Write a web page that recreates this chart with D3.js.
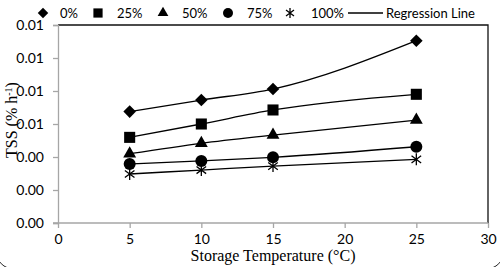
<!DOCTYPE html>
<html>
<head>
<meta charset="utf-8">
<script src="https://cdn.jsdelivr.net/npm/d3@7"></script>
<style>
  body { margin: 0; background: #fff; }
  svg { display: block; }
</style>
</head>
<body>
<div id="chart"></div>
<script>
let width = 500;
let height = 267;

// data
let temps = [5, 10, 15, 25];
let rate0 = [0.00675, 0.00745, 0.00812, 0.01105];
let rate25 = [0.00519, 0.00600, 0.00685, 0.00780];
let rate50 = [0.00420, 0.00483, 0.00533, 0.00624];
let rate75 = [0.00358, 0.00376, 0.00398, 0.00462];
let rate100 = [0.00297, 0.00321, 0.00345, 0.00386];
let seriesNames = ["0%", "25%", "50%", "75%", "100%"];
let xTicks = [0, 5, 10, 15, 20, 25, 30];
let yTicks = [0, 0.002, 0.004, 0.006, 0.008, 0.010, 0.012];

let allSeries = [rate0, rate25, rate50, rate75, rate100];
let shapes = ["diamond", "square", "triangle", "circle", "star"];

let svg = d3.select("#chart")
  .append("svg")
    .attr("width", width)
    .attr("height", height);

let xScale = d3.scaleLinear().domain([0, 30]).range([58, 488]);
let yScale = d3.scaleLinear().domain([0, 0.012]).range([223, 25]);

// outer rounded border (only the bottom corners are inside the picture)
svg.append("rect")
  .attr("x", -4).attr("y", -30)
  .attr("width", 508).attr("height", 299)
  .attr("rx", 18)
  .attr("fill", "none")
  .attr("stroke", "#222")
  .attr("stroke-width", 1);

// plot frame: top and right dark
svg.append("path")
  .attr("d", "M" + xScale(0) + "," + yScale(0.012) + "H" + xScale(30) + "V" + yScale(0))
  .attr("fill", "none")
  .attr("stroke", "#111")
  .attr("stroke-width", 1.3);

let xAxis = d3.axisBottom(xScale).tickValues(xTicks).tickSize(5).tickPadding(6);
let yAxis = d3.axisLeft(yScale).tickValues(yTicks).tickSize(5).tickPadding(9)
  .tickFormat(d3.format(".2f"));

let xAxisGroup = svg.append("g")
  .attr("transform", "translate(0," + yScale(0) + ")")
  .call(xAxis);
let yAxisGroup = svg.append("g")
  .attr("transform", "translate(" + xScale(0) + ",0)")
  .call(yAxis);

[xAxisGroup, yAxisGroup].forEach(function(g){
  g.select(".domain").attr("stroke", "#a6a6a6").attr("stroke-width", 1.3);
  g.selectAll(".tick line").attr("stroke", "#a6a6a6").attr("stroke-width", 1.3);
  g.selectAll(".tick text")
    .style("font-family", "Lato")
    .style("font-size", "14px")
    .attr("fill", "#000");
});
xAxisGroup.select(".domain").attr("d", "M" + (xScale(0) - 5) + ",0H" + xScale(30));

function drawMarker(g, shape, s) {
  if (shape == "diamond") {
    g.append("path").attr("d", d3.symbol(d3.symbolSquare, s * s * 0.55)()).attr("transform", "rotate(45)").attr("fill", "#000");
  } else if (shape == "square") {
    g.append("path").attr("d", d3.symbol(d3.symbolSquare, s * s * 0.85)()).attr("fill", "#000");
  } else if (shape == "triangle") {
    g.append("path").attr("d", d3.symbol(d3.symbolTriangle, s * s * 0.5)()).attr("fill", "#000");
  } else if (shape == "circle") {
    g.append("circle").attr("r", s * 0.5).attr("fill", "#000");
  } else {
    let r = s * 0.5;
    let a = r * 0.8;
    g.append("path")
      .attr("d", "M0," + (-r) + "V" + r + "M" + (-a) + "," + (-r * 0.6) + "L" + a + "," + (r * 0.6) + "M" + (-a) + "," + (r * 0.6) + "L" + a + "," + (-r * 0.6))
      .attr("stroke", "#000").attr("stroke-width", 1.3).attr("fill", "none");
  }
}

let line = d3.line()
  .x(function(d, i){ return xScale(temps[i]); })
  .y(function(d){ return yScale(d); })
  .curve(d3.curveMonotoneX);

allSeries.forEach(function(values, k){
  svg.append("path")
    .attr("d", line(values))
    .attr("fill", "none")
    .attr("stroke", "#000")
    .attr("stroke-width", 1.3);
});

allSeries.forEach(function(values, k){
  values.forEach(function(v, i){
    let g = svg.append("g")
      .attr("transform", "translate(" + xScale(temps[i]) + "," + yScale(v) + ")");
    drawMarker(g, shapes[k], 12);
  });
});

// legend
let legendX = [43, 98, 163, 228, 290];
let legendTextX = [60, 117, 182, 247, 311];
let legendY = 13;
seriesNames.forEach(function(name, k){
  let g = svg.append("g").attr("transform", "translate(" + legendX[k] + "," + legendY + ")");
  drawMarker(g, shapes[k], 10);
  svg.append("text")
    .attr("x", legendTextX[k])
    .attr("y", legendY + 5)
    .text(name)
    .style("font-family", "Lato")
    .style("font-size", "13px");
});
svg.append("line")
  .attr("x1", 348).attr("x2", 383)
  .attr("y1", legendY).attr("y2", legendY)
  .attr("stroke", "#000").attr("stroke-width", 1.3);
svg.append("text")
  .attr("x", 386)
  .attr("y", legendY + 5)
  .text("Regression Line")
  .style("font-family", "Lato")
  .style("font-size", "13px");

// axis titles
svg.append("text")
  .attr("x", (xScale(0) + xScale(30)) / 2)
  .attr("y", 261)
  .attr("text-anchor", "middle")
  .text("Storage Temperature (°C)")
  .style("font-family", "Liberation Serif")
  .style("font-size", "16px");

let yTitle = svg.append("text")
  .attr("transform", "translate(17," + 120 + ") rotate(-90)")
  .attr("text-anchor", "middle")
  .style("font-family", "Liberation Serif")
  .style("font-size", "16px");
yTitle.append("tspan").text("TSS (% h");
yTitle.append("tspan").text("-1").attr("dy", -5).style("font-size", "10px");
yTitle.append("tspan").text(")").attr("dy", 5);
</script>
</body>
</html>
